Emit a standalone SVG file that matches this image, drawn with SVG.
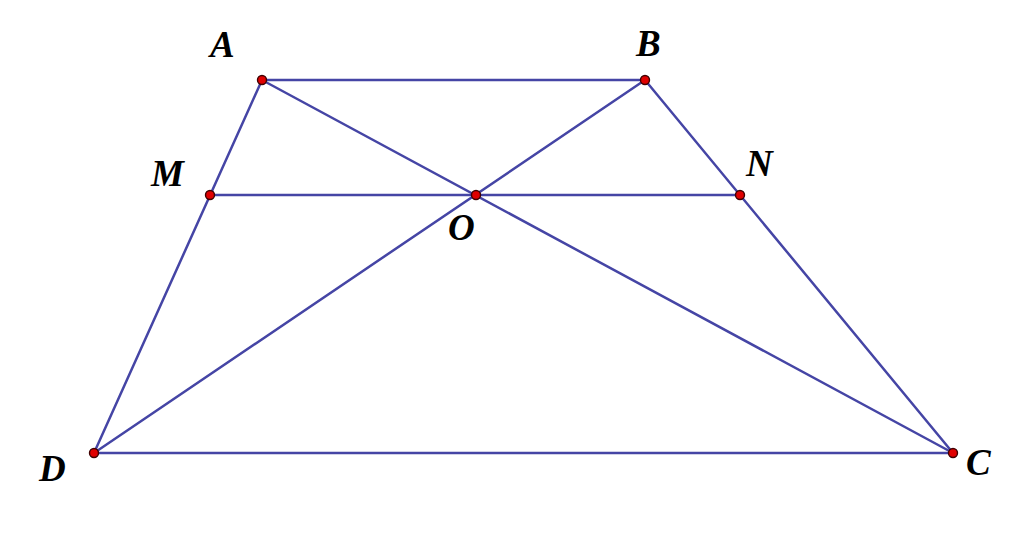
<svg xmlns="http://www.w3.org/2000/svg" width="1024" height="534" viewBox="0 0 1024 534">
<style>
.ln{stroke:#4545a5;stroke-width:2.5;fill:none;stroke-linecap:round}
.pt{fill:#e00000;stroke:#400000;stroke-width:1.4}
.lb{font-family:"Liberation Serif",serif;font-weight:bold;font-style:italic;font-size:37px;fill:#000}
</style>
<rect width="1024" height="534" fill="#fff"/>
<g id="connectors">
<line class="ln" x1="262" y1="80" x2="645" y2="80"/>
<line class="ln" x1="262" y1="80" x2="94" y2="453"/>
<line class="ln" x1="645" y1="80" x2="953" y2="453"/>
<line class="ln" x1="94" y1="453" x2="953" y2="453"/>
<line class="ln" x1="262" y1="80" x2="953" y2="453"/>
<line class="ln" x1="645" y1="80" x2="94" y2="453"/>
<line class="ln" x1="210" y1="195" x2="740" y2="195"/>
</g>
<g id="A"><circle class="pt" cx="262" cy="80" r="4.5"/><text class="lb" x="210" y="57">A</text></g>
<g id="B"><circle class="pt" cx="645" cy="80" r="4.5"/><text class="lb" x="636" y="56">B</text></g>
<g id="M"><circle class="pt" cx="210" cy="195" r="4.5"/><text class="lb" x="151" y="186">M</text></g>
<g id="O"><circle class="pt" cx="476" cy="195" r="4.5"/><text class="lb" x="448" y="240">O</text></g>
<g id="N"><circle class="pt" cx="740" cy="195" r="4.5"/><text class="lb" x="746" y="176">N</text></g>
<g id="D"><circle class="pt" cx="94" cy="453" r="4.5"/><text class="lb" x="39" y="481">D</text></g>
<g id="C"><circle class="pt" cx="953" cy="453" r="4.5"/><text class="lb" x="966" y="475">C</text></g>
</svg>
